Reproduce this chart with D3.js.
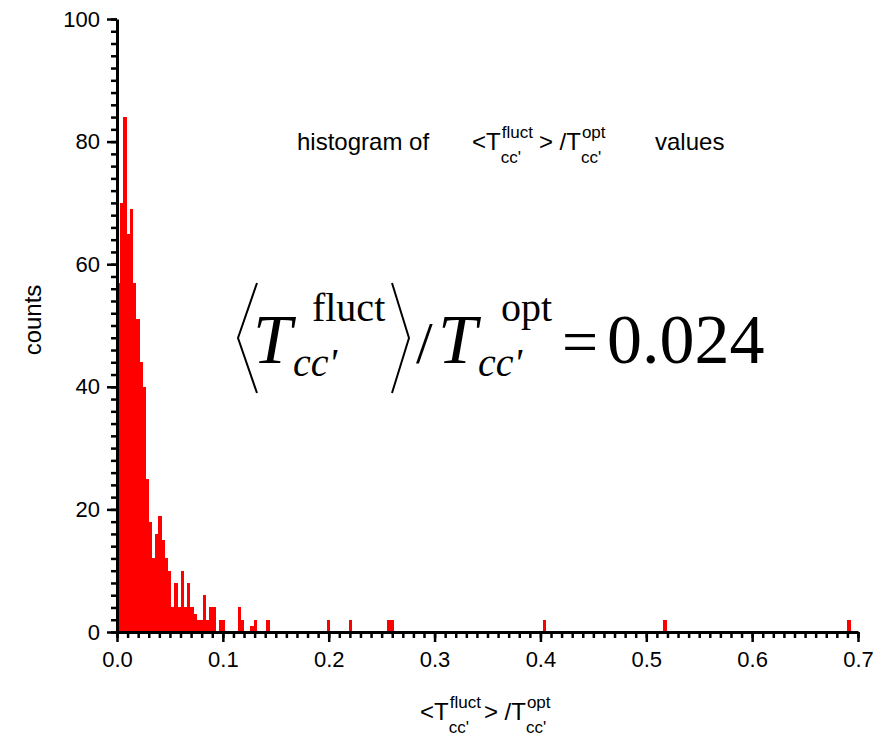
<!DOCTYPE html>
<html>
<head>
<meta charset="utf-8">
<script src="https://cdn.jsdelivr.net/npm/d3@7"></script>
<style>
  html, body { margin: 0; padding: 0; background: #fff; }
  svg { display: block; }
</style>
</head>
<body>
<div id="chart"></div>
<script>
const barColor = '#FF0000';
const axisColor = '#000';
const sansFont = '"Liberation Sans", Arial, sans-serif';
const serifFont = '"Liberation Serif", "Times New Roman", serif';

// histogram, bin width 0.003 (left edge of each non-empty bin + its count)
const binWidth = 0.003;
const binStarts = [0.000, 0.003, 0.006, 0.009, 0.012, 0.015, 0.018, 0.021, 0.024, 0.027,
  0.030, 0.033, 0.036, 0.039, 0.042, 0.045, 0.048, 0.051, 0.054, 0.057,
  0.060, 0.063, 0.066, 0.069, 0.072, 0.075, 0.078, 0.081, 0.084, 0.087,
  0.090, 0.096, 0.099, 0.114, 0.117, 0.126, 0.129, 0.141,
  0.198, 0.219, 0.255, 0.258, 0.402, 0.516, 0.690];
const binCounts = [57, 70, 84, 65, 69, 57, 51, 44, 40, 25,
  18, 12, 16, 19, 15, 12, 10, 4, 8, 4,
  10, 4, 8, 4, 3, 2, 2, 6, 2, 4,
  4, 2, 2, 4, 2, 1, 2, 2,
  2, 2, 2, 2, 2, 2, 2];

const xMajorTicks = [0, 0.1, 0.2, 0.3, 0.4, 0.5, 0.6, 0.7];
const yMajorTicks = [0, 20, 40, 60, 80, 100];
const meanValue = '0.024';

const width = 888;
const height = 739;

const x = d3.scaleLinear().domain([0, 0.7]).range([117, 858]);
const y = d3.scaleLinear().domain([0, 100]).range([632, 19]);

const svg = d3.select('#chart').append('svg')
  .attr('width', width)
  .attr('height', height);

// bars
const bins = binStarts.map((s, i) => ({start: s, count: binCounts[i]}));
svg.append('g')
  .attr('shape-rendering', 'crispEdges')
  .selectAll('rect')
  .data(bins)
  .join('rect')
  .attr('x', d => x(d.start))
  .attr('width', d => x(d.start + binWidth) - x(d.start) + 0.4)
  .attr('y', d => y(d.count))
  .attr('height', d => y(0) - y(d.count))
  .attr('fill', barColor);

function styleAxis(g) {
  g.select('.domain').attr('stroke', axisColor).attr('stroke-width', 3);
  g.selectAll('.tick line').attr('stroke', axisColor).attr('stroke-width', 2.5);
  g.selectAll('.tick text')
    .attr('fill', axisColor)
    .style('font-family', sansFont)
    .style('font-size', '22px');
}

// minor ticks first
const xMinor = d3.range(0, 71).map(i => i / 100);
const yMinor = d3.range(0, 101, 2);

svg.append('g')
  .attr('transform', `translate(0,${y(0)})`)
  .call(d3.axisBottom(x).tickValues(xMinor).tickSize(6).tickFormat(''))
  .call(g => g.select('.domain').remove())
  .call(styleAxis);

svg.append('g')
  .attr('transform', `translate(${x(0)},0)`)
  .call(d3.axisLeft(y).tickValues(yMinor).tickSize(6).tickFormat(''))
  .call(g => g.select('.domain').remove())
  .call(styleAxis);

svg.append('g')
  .attr('transform', `translate(0,${y(0)})`)
  .call(d3.axisBottom(x).tickValues(xMajorTicks).tickSize(10).tickSizeOuter(0)
    .tickPadding(9).tickFormat(d3.format('.1f')))
  .call(styleAxis);

svg.append('g')
  .attr('transform', `translate(${x(0)},0)`)
  .call(d3.axisLeft(y).tickValues(yMajorTicks).tickSize(10).tickSizeOuter(0)
    .tickPadding(7).tickFormat(d3.format('d')))
  .call(styleAxis);

function plainText(g, x0, base, txt, font, size, italic) {
  const t = g.append('text')
    .attr('x', x0).attr('y', base)
    .style('font-family', font)
    .style('font-size', size + 'px')
    .style('font-style', italic ? 'italic' : 'normal')
    .text(txt);
  return x0 + t.node().getComputedTextLength();
}

// base text followed by a stacked superscript / subscript, returns end x
function tensor(g, x0, base, o) {
  const end = plainText(g, x0, base, o.text, o.font, o.size, o.italic);
  const supEnd = plainText(g, end + o.supGap, base - o.supShift, o.sup, o.font, o.subSize, false);
  const subEnd = plainText(g, end + o.subGap, base + o.subShift, o.sub, o.font, o.subSize, o.subItalic);
  return Math.max(supEnd, subEnd);
}

// small ratio label used in the title and the x axis title
function ratioLabel(g, x0, base, size, subSize, gap) {
  const common = {font: sansFont, size, subSize, supShift: size * 0.5, subShift: size * 0.55,
    supGap: 1, subGap: 0};
  let cx = tensor(g, x0, base, Object.assign({text: '<T', sup: 'fluct', sub: "cc'"}, common));
  cx = tensor(g, cx + gap, base, Object.assign({text: '> /T', sup: 'opt', sub: "cc'"}, common));
  return cx;
}

const title = svg.append('g');
plainText(title, 297, 150, 'histogram of', sansFont, 24);
ratioLabel(title, 472, 150, 24, 17, 6);
plainText(title, 655, 150, 'values', sansFont, 24);

const xTitle = svg.append('g');
ratioLabel(xTitle, 420, 720, 24, 17, 3);

svg.append('text')
  .attr('transform', `translate(41,320) rotate(-90)`)
  .attr('text-anchor', 'middle')
  .style('font-family', sansFont)
  .style('font-size', '24px')
  .text('counts');

// big formula
const formula = svg.append('g');
const bracketPath = d3.line();
const big = {font: serifFont, size: 70, subSize: 40, italic: true, subItalic: true,
  supShift: 42, subShift: 13, subGap: 1};
formula.append('path')
  .attr('d', bracketPath([[257, 283], [238, 338], [257, 393]]))
  .attr('fill', 'none').attr('stroke', '#000').attr('stroke-width', 2);
tensor(formula, 253, 363, Object.assign({text: 'T', sup: 'fluct', sub: "cc'", supGap: 20}, big));
formula.append('path')
  .attr('d', bracketPath([[392, 283], [409, 338], [392, 393]]))
  .attr('fill', 'none').attr('stroke', '#000').attr('stroke-width', 2);
plainText(formula, 416, 363, '/', serifFont, 60);
tensor(formula, 438, 363, Object.assign({text: 'T', sup: 'opt', sub: "cc'", supGap: 24}, big));
plainText(formula, 562, 363, '=', serifFont, 64);
plainText(formula, 607, 363, meanValue, serifFont, 70);
</script>
</body>
</html>
